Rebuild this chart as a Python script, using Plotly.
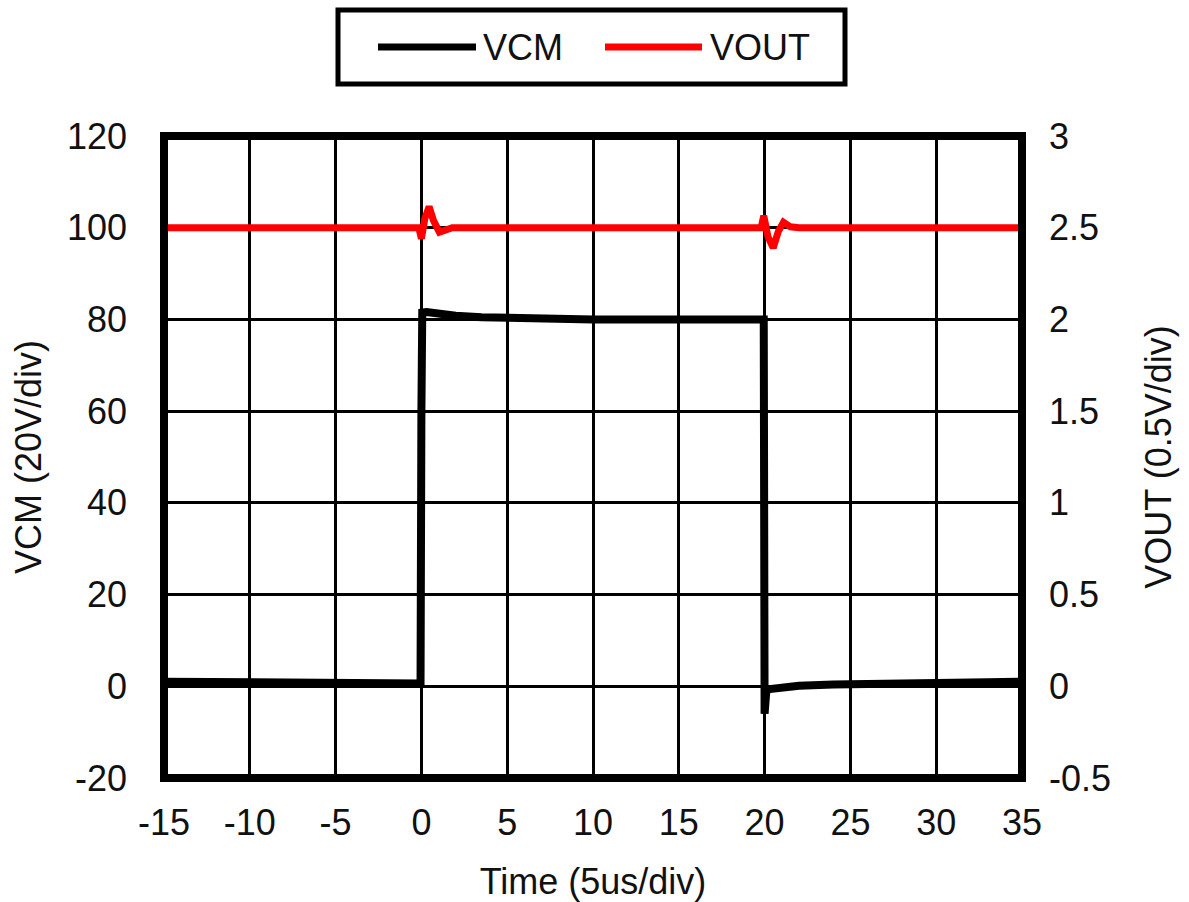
import plotly.graph_objects as go

# ---- data ----
t_vcm = [-15, -12, -9, -6, -3, -0.05, 0.0, 0.05, 0.3, 1.0, 2.0, 3.5, 5.0, 7.0, 10.0, 14.0, 17.0, 19.95,
         20.0, 20.03, 20.1, 20.3, 21.0, 22.0, 24.0, 27.0, 30.0, 33.0, 35.0]
vcm = [1.0, 1.0, 0.9, 1.0, 0.8, 0.6, 60.0, 81.5, 81.6, 81.2, 80.8, 80.5, 80.3, 80.1, 80.0, 80.0, 80.0, 80.0,
       -6.0, -2.0, -1.0, -0.6, -0.2, 0.1, 0.4, 0.7, 0.8, 0.9, 1.0]

t_vout = [-15, -10, -5, -1, -0.15, 0.0, 0.2, 0.45, 0.7, 1.05, 1.4, 1.8, 3, 6, 10, 14, 18, 19.8,
          19.95, 20.2, 20.5, 20.8, 21.1, 21.5, 22.0, 25, 28, 32, 35]
vout = [2.50, 2.50, 2.505, 2.50, 2.50, 2.44, 2.55, 2.615, 2.54, 2.476, 2.49, 2.50, 2.50, 2.50, 2.505, 2.50, 2.50, 2.50,
        2.565, 2.45, 2.39, 2.48, 2.53, 2.505, 2.50, 2.50, 2.50, 2.505, 2.50]

x_ticks = [-15, -10, -5, 0, 5, 10, 15, 20, 25, 30, 35]
x_labels = ["-15", "-10", "-5", "0", "5", "10", "15", "20", "25", "30", "35"]
y1_ticks = [-20, 0, 20, 40, 60, 80, 100, 120]
y1_labels = ["-20", "0", "20", "40", "60", "80", "100", "120"]
y2_ticks = [-0.5, 0, 0.5, 1, 1.5, 2, 2.5, 3]
y2_labels = ["-0.5", "0", "0.5", "1", "1.5", "2", "2.5", "3"]

FONT = "Liberation Sans, Arial, sans-serif"
FS = 36

fig = go.Figure()
fig.add_trace(go.Scatter(x=t_vcm, y=vcm, name="VCM", mode="lines",
                         line=dict(color="black", width=8), yaxis="y"))
fig.add_trace(go.Scatter(x=t_vout, y=vout, name="VOUT", mode="lines",
                         line=dict(color="#ff0000", width=7), yaxis="y2"))

axis_common = dict(showline=False, zeroline=False, ticks="", showgrid=True, automargin=False,
                   gridcolor="black", gridwidth=2.5,
                   tickfont=dict(family=FONT, size=FS, color="#111111"))

fig.update_layout(
    width=1189, height=902,
    margin=dict(l=164, r=167, t=136, b=124),
    paper_bgcolor="white", plot_bgcolor="white",
    showlegend=False,
    font=dict(family=FONT, size=FS, color="#111111"),
    xaxis=dict(range=[-15, 35], tickvals=x_ticks, ticktext=x_labels, ticklabelstandoff=20,
               title=dict(text="Time (5us/div)", font=dict(size=FS), standoff=28),
               **axis_common),
    yaxis=dict(range=[-20, 120], tickvals=y1_ticks, ticktext=y1_labels, ticklabelstandoff=36,
               title=dict(text="VCM (20V/div)", font=dict(size=FS), standoff=14),
               **axis_common),
    yaxis2=dict(range=[-0.5, 3], tickvals=y2_ticks, ticktext=y2_labels, overlaying="y", side="right",
                ticklabelstandoff=26,
                title=dict(text="VOUT (0.5V/div)", font=dict(size=FS), standoff=35),
                **{**axis_common, "showgrid": False}),
)

# plot frame
fig.add_shape(type="rect", xref="paper", yref="paper", x0=0, x1=1, y0=0, y1=1,
              line=dict(color="black", width=8), layer="above")

# manual legend (box, sample lines, labels)
def px_x(p):
    return (p - 164) / 858.0

def px_y(p):
    return (778 - p) / 642.0

fig.add_shape(type="rect", xref="paper", yref="paper",
              x0=px_x(338), x1=px_x(845), y0=px_y(84), y1=px_y(10),
              line=dict(color="black", width=5), fillcolor="white")
ly = px_y(47)
fig.add_shape(type="line", xref="paper", yref="paper", x0=px_x(378), x1=px_x(476), y0=ly, y1=ly,
              line=dict(color="black", width=7))
fig.add_shape(type="line", xref="paper", yref="paper", x0=px_x(605), x1=px_x(702), y0=ly, y1=ly,
              line=dict(color="#ff0000", width=7))
fig.add_annotation(xref="paper", yref="paper", x=px_x(481), y=ly, text="VCM", showarrow=False,
                   xanchor="left", yanchor="middle", font=dict(family=FONT, size=FS, color="#111111"))
fig.add_annotation(xref="paper", yref="paper", x=px_x(708), y=ly, text="VOUT", showarrow=False,
                   xanchor="left", yanchor="middle", font=dict(family=FONT, size=FS, color="#111111"))

fig.write_html("out.html")
